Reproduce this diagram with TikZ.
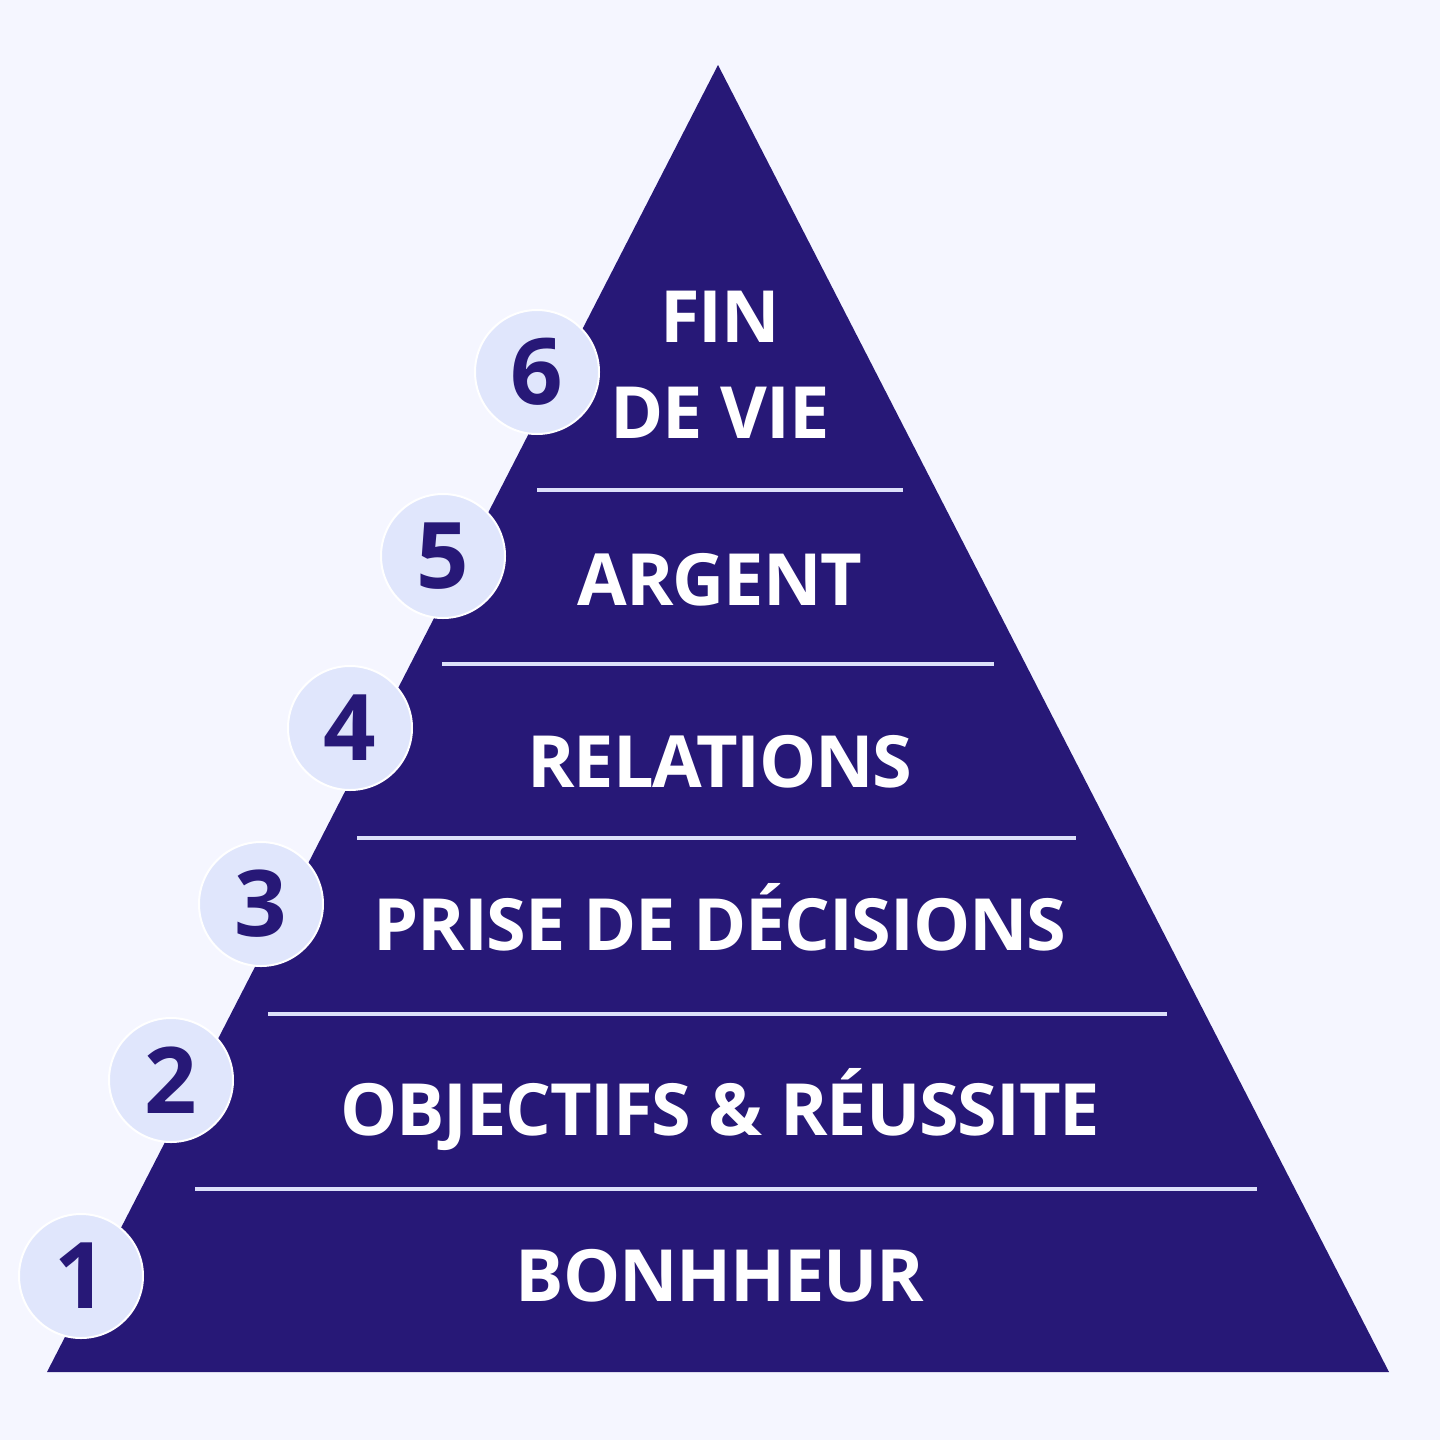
\documentclass[tikz,border=0pt]{standalone}
\usepackage{fontspec}
\setmainfont{Open Sans}
\newfontfamily\tightfont[LetterSpace=-1.6]{Open Sans}
\usepackage{tikz}
\usetikzlibrary{positioning}
\definecolor{paper}{HTML}{F5F6FF}
\definecolor{indigo}{HTML}{271877}
\definecolor{bubble}{HTML}{E0E6FC}
\definecolor{divider}{HTML}{DCE0FA}

\begin{document}
\begin{tikzpicture}[
  x=0.5pt,y=-0.5pt,
  label/.style={text=white,inner sep=0pt,anchor=base,
                font=\tightfont\fontsize{36}{40}\selectfont\bfseries},
  num/.style={circle,fill=bubble,draw=white,line width=1pt,minimum size=62pt,
              inner sep=0pt,text=indigo,font=\fontsize{46}{50}\selectfont\bfseries},
  divide/.style={draw=divider,line width=1.6pt}
]
\useasboundingbox[fill=paper] (0,0) rectangle (1440,1440);

% pyramid
\coordinate (top) at (718,65);
\coordinate (bl) at (47,1372);
\coordinate (br) at (1389,1372);
\fill[indigo] (top) -- (br) -- (bl) -- cycle;

% layer dividers
\draw[divide] (537,490) -- (903,490);
\draw[divide] (442,664) -- (994,664);
\draw[divide] (357,838) -- (1076,838);
\draw[divide] (268,1014) -- (1167,1014);
\draw[divide] (195,1189) -- (1257,1189);

% layer names
\node[label] (fin) at (720,342) {FIN};
\node[label] (devie) at (720,438) {DE VIE};
\node[label] (argent) at (720,605) {ARGENT};
\node[label] (relations) at (720,787) {RELATIONS};
\node[label] (decisions) at (720,950) {PRISE DE DÉCISIONS};
\node[label] (objectifs) at (720,1135) {OBJECTIFS \& RÉUSSITE};
\node[label] (bonheur) at (720,1301) {BONHHEUR};

% numbered bubbles
\node[num] (n6) at (537,372) {6};
\node[num] (n5) at (443,556) {5};
\node[num] (n4) at (350,728) {4};
\node[num] (n3) at (261,904) {3};
\node[num] (n2) at (171,1080) {2};
\node[num] (n1) at (81,1276) {1};
\end{tikzpicture}
\end{document}
